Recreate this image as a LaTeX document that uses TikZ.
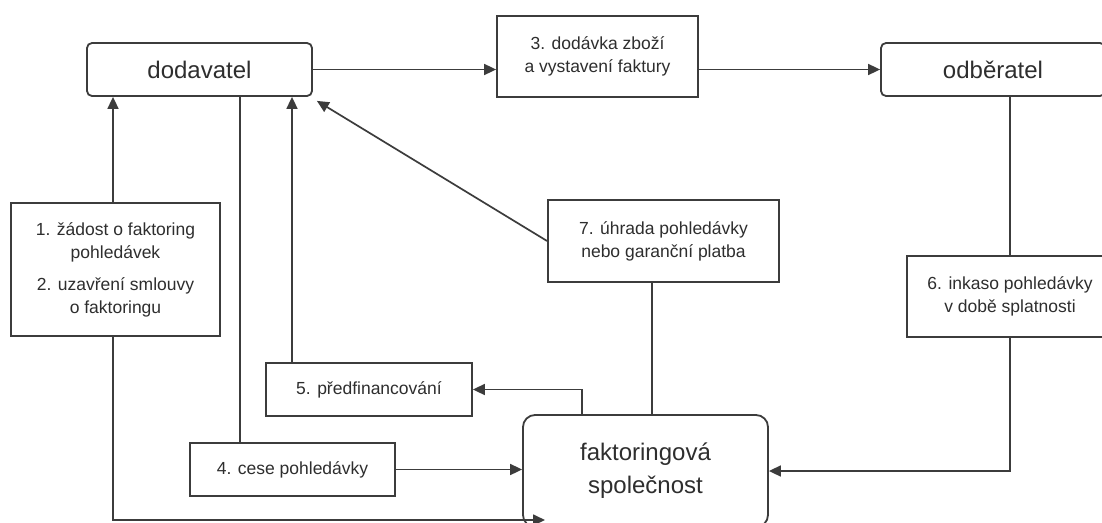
\documentclass[tikz,border=0pt]{standalone}
\usepackage{fontspec}
\setmainfont{Liberation Sans}
\usetikzlibrary{arrows.meta}
\definecolor{ln}{HTML}{3C3C3C}
\definecolor{tx}{HTML}{2E2E2E}
\begin{document}
\begin{tikzpicture}[x=1pt,y=-1pt,
  box/.style={draw=ln, line width=1.8pt, text=tx, align=center, inner sep=0pt, fill=white,
    font=\fontsize{17.5}{23}\selectfont},
  rbox/.style={box, rounded corners=5pt, font=\fontsize{24}{33}\selectfont},
  con/.style={draw=ln, line width=1.7pt},
  arr/.style={con, -{Triangle[length=12pt,width=11pt]}}]
\useasboundingbox (0,0) rectangle (1102,522);
\fill[white] (0,0) rectangle (1102,522);
\clip (0,0) rectangle (1102,522);
% nodes
\node[rbox, minimum width=225pt, minimum height=53pt] (dod) at (199.5,69.5) {dodavatel};
\node[box, minimum width=201pt, minimum height=81pt] (b3) at (597.5,56.5) {3. dodávka zboží\\a vystavení faktury};
\node[rbox, minimum width=224pt, minimum height=53pt] (odb) at (993,69.5) {odběratel};
\node[box, minimum width=206pt, minimum height=81pt] (b6) at (1010,296.5) {6. inkaso pohledávky\\v době splatnosti};
\node[box, minimum width=231pt, minimum height=82pt] (b7) at (663.5,241) {7. úhrada pohledávky\\nebo garanční platba};
\node[box, minimum width=209pt, minimum height=133pt] (b1) at (115.5,269.5) {1. žádost o faktoring\\pohledávek\\[9pt]2. uzavření smlouvy\\o faktoringu};
\node[box, minimum width=206pt, minimum height=53pt] (b5) at (369,389.5) {5. předfinancování};
\node[box, minimum width=205pt, minimum height=53pt] (b4) at (292.5,469.5) {4. cese pohledávky};
\node[rbox, rounded corners=12pt, minimum width=245pt, minimum height=112pt] (fak) at (645.5,471) {faktoringová\\společnost};
\coordinate (fakin) at (545,520);
% connectors
\draw[arr] (dod.east) -- (dod.east -| b3.west);
\draw[arr] (b3.east |- odb.west) -- (odb.west);
\draw[con] (b6.north |- odb.south) -- (b6.north);
\draw[arr] (b6.south) |- (fak.east);
\draw[con] ([xshift=-11.5pt]b7.south) -- ([xshift=-11.5pt]b7.south |- fak.north);
\draw[arr] (b7.west) -- ([xshift=4pt,yshift=-4pt]dod.south east);
\draw[arr] ([xshift=-2.5pt]b1.north) -- ([xshift=-2.5pt]b1.north |- dod.south);
\draw[arr] ([xshift=-77pt]b5.north) -- ([xshift=-77pt]b5.north |- dod.south);
\draw[con] ([xshift=-52.5pt]b4.north |- dod.south) -- ([xshift=-52.5pt]b4.north);
\draw[arr] (b4.east) -- (b4.east -| fak.west);
\draw[arr] ([xshift=-63.5pt]fak.north) |- (b5.east);
\draw[arr] ([xshift=-2.5pt]b1.south) |- (fakin);
\end{tikzpicture}
\end{document}
